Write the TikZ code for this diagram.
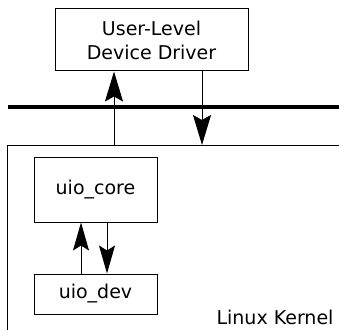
\documentclass[tikz,border=0pt]{standalone}
\usepackage{fontspec}
\setmainfont{DejaVu Sans}
\usetikzlibrary{positioning,arrows.meta}

\begin{document}
\begin{tikzpicture}[x=1pt,y=1pt,
		box/.style={draw,line width=1pt,font=\fontsize{19}{24}\selectfont,align=center,inner sep=0pt},
		bigarrow/.style={-{Stealth[length=30pt,width=18pt,inset=5pt]},line width=1pt},
		smallarrow/.style={-{Stealth[length=28pt,width=16pt,inset=5pt]},line width=1pt}]
		\useasboundingbox (0,0) rectangle (339,329);
		\node[box,minimum width=193pt,minimum height=62pt] (user) at (151.5,289) {User-Level\\Device Driver};
		\node[draw,line width=1.3pt,minimum width=345pt,minimum height=200pt,anchor=north west,inner sep=0pt] (kernel) at (7,184) {};
		\node[box,minimum width=123pt,minimum height=64pt] (core) at (95.5,139) {uio\_core};
		\node[box,minimum width=123pt,minimum height=40pt] (dev) [below=51pt of core] {uio\_dev};
		\node[font=\fontsize{19}{24}\selectfont,inner sep=0pt] (linux) at (275,12) {Linux Kernel};
		\draw[line width=4pt] (8,222) -- (339,222);
		\coordinate (up) at (114,184);
		\coordinate (down) at (202,184);
		\draw[bigarrow] (up) -- (up |- user.south);
		\draw[bigarrow] (down |- user.south) -- (down);
		\draw[smallarrow] ([xshift=-14.5pt]dev.north) -- ([xshift=-14.5pt]core.south);
		\draw[smallarrow] ([xshift=11.5pt]core.south) -- ([xshift=11.5pt]dev.north);
	\end{tikzpicture}
\end{document}
